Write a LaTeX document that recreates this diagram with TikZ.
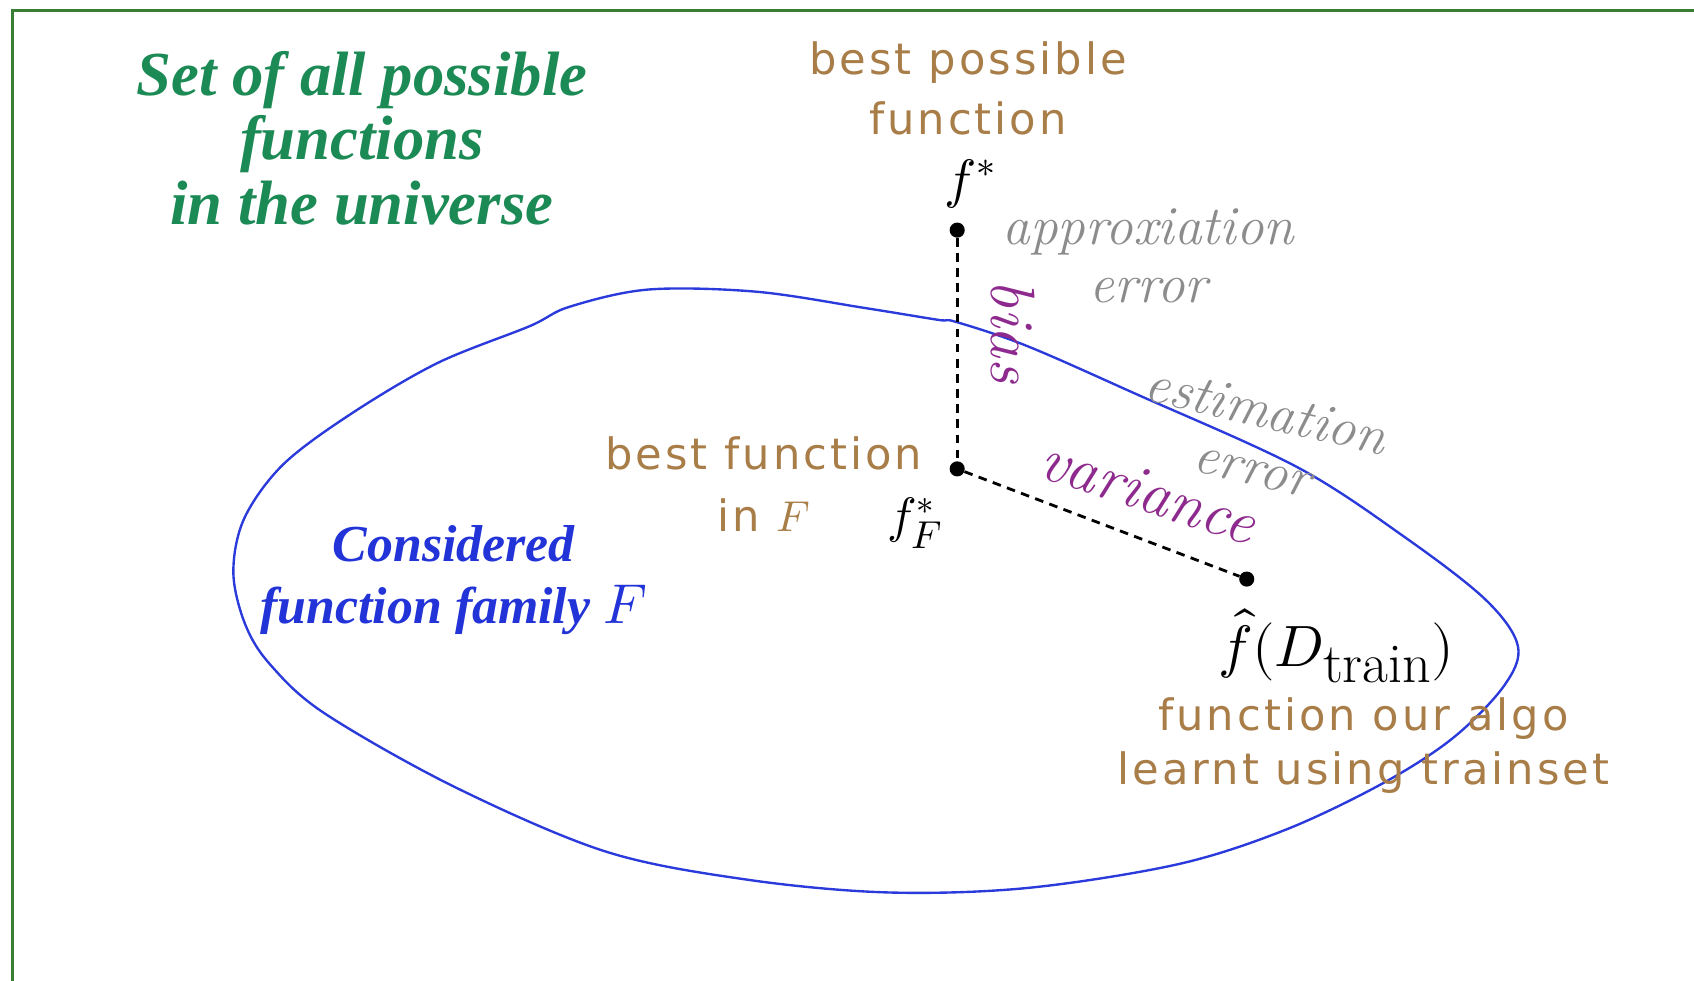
\documentclass[tikz,border=0pt]{standalone}
\usepackage{fontspec}
\usepackage{unicode-math}
\setmathfont{Latin Modern Math}
\newfontfamily\timesf{Liberation Serif}
\newfontfamily\brownf[LetterSpace=7]{DejaVu Sans}
\definecolor{titlegreen}{HTML}{1B8A55}
\definecolor{framegreen}{HTML}{3A7D35}
\definecolor{brownt}{HTML}{A87D48}
\definecolor{grayt}{HTML}{8C8C8C}
\definecolor{purplet}{HTML}{8E2A8E}
\definecolor{bluet}{HTML}{2233D8}
\definecolor{bluec}{HTML}{2B3BDB}
\tikzset{
  dotnode/.style={circle,fill=black,inner sep=0pt,minimum size=14pt},
  conn/.style={line width=2.6pt,dash pattern=on 8pt off 6pt},
  browntext/.style={text=brownt,font=\brownf\fontsize{40}{56}\selectfont,align=center,inner sep=0pt},
  graytext/.style={text=grayt,font=\itshape\fontsize{51}{54}\selectfont,align=center,inner sep=0pt},
  purpletext/.style={text=purplet,font=\itshape\fontsize{58}{60}\selectfont,inner sep=0pt},
  mathtext/.style={inner sep=0pt,font=\fontsize{48}{50}\selectfont},
}
\begin{document}
\begin{tikzpicture}[x=1pt,y=-1pt]
\useasboundingbox (0,0) rectangle (1568,908);
% frame
\draw[framegreen,line width=2.5pt] (11.5,908) -- (11.5,10) -- (1568,10);
% title
\node[text=titlegreen,font=\timesf\bfseries\itshape\fontsize{58}{60}\selectfont,align=center,inner sep=0pt] (title) at (335,128)
  {Set of all possible\\functions\\in the universe};
% blue family
\draw[bluec,line width=2.2pt] plot[smooth cycle,tension=0.55] coordinates {
 (527,284) (600,268) (700,270) (800,285) (868,296) (885,298) (950,320) (1050,364) (1200,432)
 (1300,497) (1375,555) (1405,598) (1392,635) (1345,683) (1280,725) (1190,768) (1090,800)
 (950,822) (820,826) (690,814) (560,788) (420,728) (300,660) (250,615) (227,578)
 (216,530) (226,480) (262,430) (325,383) (405,336) (490,302)};
% dots
\node[dotnode] (fstar) at (886,213) {};
\node[dotnode] (fF) at (886,434) {};
\node[dotnode] (fhat) at (1154,536) {};
\draw[conn] (fstar) -- (fF);
\draw[conn] (fF) -- (fhat);
% labels
\node[mathtext,font=\fontsize{50}{50}\selectfont] (lfstar) at (898,170) {$f^*$};
\node[mathtext,font=\fontsize{46}{50}\selectfont] (lfF) at (847,484) {$f^*_{\mbox{\fontsize{36}{36}\selectfont$F$}}$};
\node[mathtext,font=\fontsize{54}{54}\selectfont] (lfhat) at (1237,598) {$\hat f(D_{\mbox{\fontsize{52}{52}\selectfont train}})$};
\node[browntext,font=\brownf\fontsize{40}{55}\selectfont] (bp) at (896,82) {best possible\\function};
\node[browntext,font=\brownf\fontsize{40}{57}\selectfont] (bf) at (707,448) {best function\\in $F$};
\node[browntext,font=\brownf\fontsize{40}{50}\selectfont] (alg) at (1262,690) {function our algo\\learnt using trainset};
\node[graytext] (approx) at (1063,237) {approxiation\\error};
\node[graytext,rotate=-13] (est) at (1166,406) {estimation\\error};
\node[purpletext,rotate=-90] (bias) at (938,307) {bias};
\node[purpletext,rotate=-18] (var) at (1063,455) {variance};
\node[text=bluet,font=\timesf\bfseries\itshape\fontsize{48}{58}\selectfont,align=center,inner sep=0pt] (fam) at (420,537)
  {Considered\\function family {\fontsize{52}{58}\selectfont$F$}};
\end{tikzpicture}
\end{document}
